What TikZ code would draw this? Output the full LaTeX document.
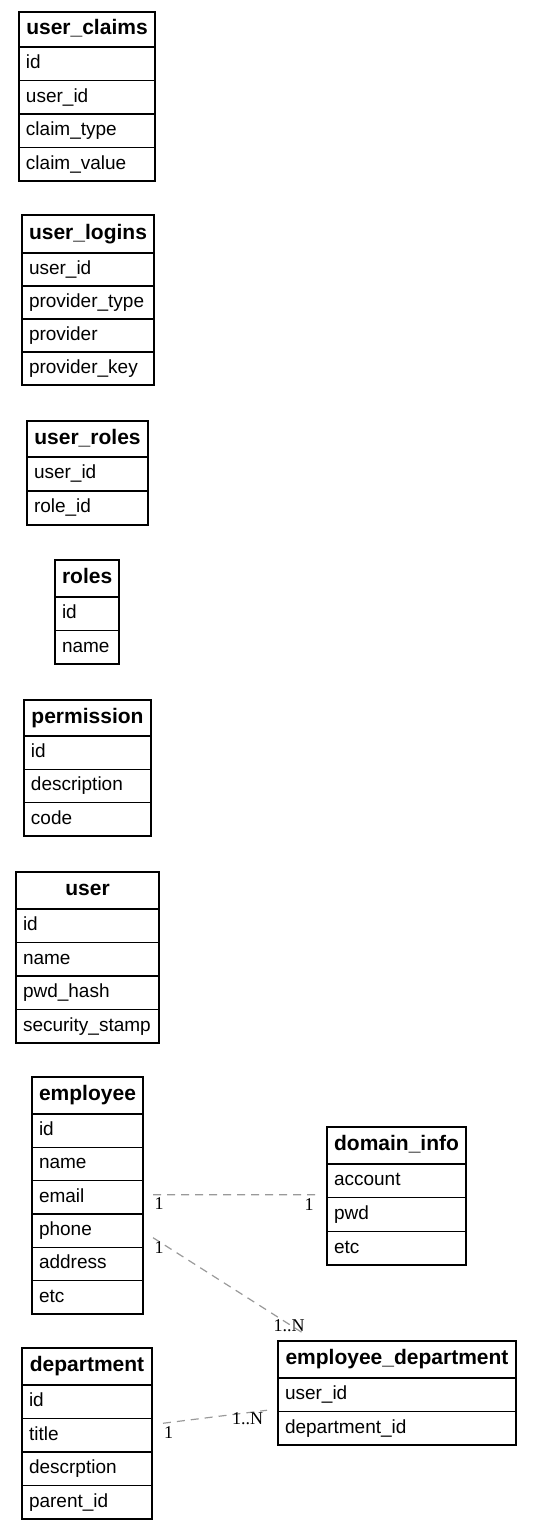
\documentclass[tikz,border=0pt]{standalone}
\usepackage{fontspec}
\setmainfont{Liberation Sans}
\newfontfamily\lblfont{Liberation Serif}
\usetikzlibrary{calc}
\tikzset{
  tbl/.style={draw=black, line width=1pt, inner ysep=0pt, inner xsep=5.25pt, rectangle, outer sep=0pt},
  hdr/.style={tbl, font=\fontsize{15.75}{18}\selectfont\bfseries, align=center, text height=11.4pt, text depth=3.3pt},
  rowcell/.style={tbl, font=\fontsize{14.25}{17}\selectfont, align=left, text height=10.3pt, text depth=3pt},
  rel/.style={draw=black!40, line width=0.9pt, dash pattern=on 6pt off 4.5pt},
  card/.style={font=\lblfont\fontsize{13.5}{15}\selectfont, inner sep=0pt, text=black}
}
% #1 name, #2 x, #3 y, #4 width, #5 header height, #6 row height, #7 title, #8 rows
\newcommand\ertable[8]{%
  \node[hdr, text width={(#4-14)*0.75pt}, minimum width={#4*0.75pt}, minimum height={#5*0.75pt}, anchor=north west] (#1-h) at (#2,#3) {#7};
  \foreach \r [count=\i] in {#8} {
    \node[rowcell, text width={(#4-14)*0.75pt}, minimum width={#4*0.75pt}, minimum height={#6*0.75pt}, anchor=north west] (#1-\i) at (#2,{#3+#5+(\i-1)*#6}) {\r};
  }%
}
\begin{document}
\begin{tikzpicture}[x=0.75pt, y=-0.75pt]
\useasboundingbox (0,0) rectangle (532,1531);
\ertable{uc}{19}{12}{136}{35}{33.5}{user\_claims}{id,user\_id,claim\_type,claim\_value}
\ertable{ul}{22}{215}{132}{38}{33}{user\_logins}{user\_id,provider\_type,provider,provider\_key}
\ertable{ur}{27}{421}{121}{36}{34}{user\_roles}{user\_id,role\_id}
\ertable{ro}{55}{560}{64}{37}{33.5}{roles}{id,name}
\ertable{pe}{24}{700}{127}{36}{33.333}{permission}{id,description,code}
\ertable{us}{16}{872}{143}{37}{33.5}{user}{id,name,pwd\_hash,security\_stamp}
\ertable{emp}{32}{1077}{111}{37}{33.333}{employee}{id,name,email,phone,address,etc}
\ertable{di}{327}{1127}{139}{37}{33.667}{domain\_info}{account,pwd,etc}
\ertable{dep}{22}{1348}{130}{37}{33.5}{department}{id,title,descrption,parent\_id}
\ertable{ed}{278}{1341}{238}{37}{33.5}{employee\_department}{user\_id,department\_id}

% connector end points
\coordinate (r1a) at ($(emp-3.east)+(10,-2.5)$);
\coordinate (r1b) at ($(di-1.west)+(-12,14)$);
\coordinate (r2a) at ($(emp-4.east)+(10,7)$);
\coordinate (r2b) at ($(ed-h.north)+(-91,-6)$);
\coordinate (r3a) at ($(dep-2.east)+(11,-12)$);
\coordinate (r3b) at ($(ed-1.west)+(-11,15.5)$);

\draw[rel] (r1a) -- (r1b);
\draw[rel] (r2a) -- (r2b);
\draw[rel] (r3a) -- (r3b);

\node[card] (l1a) at (159,1204) {1};
\node[card] (l1b) at (309,1204.5) {1};
\node[card] (l2a) at (159,1247.5) {1};
\node[card] (l2b) at (289,1326) {1..N};
\node[card] (l3a) at (168.5,1432.5) {1};
\node[card] (l3b) at (247.5,1419) {1..N};
\end{tikzpicture}
\end{document}
